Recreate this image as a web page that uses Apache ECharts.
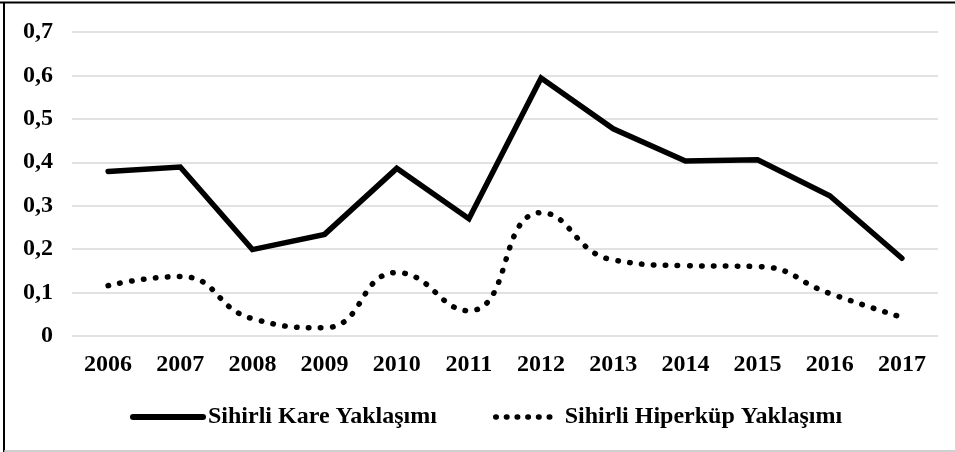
<!DOCTYPE html>
<html>
<head>
<meta charset="utf-8">
<script src="https://cdn.jsdelivr.net/npm/echarts@6/dist/echarts.min.js"></script>
<style>
html,body{margin:0;padding:0;background:#fff;}
#chart{width:955px;height:452px;}
</style>
</head>
<body>
<div id="chart"></div>
<script>
const years = ['2006','2007','2008','2009','2010','2011','2012','2013','2014','2015','2016','2017'];
const kareValues = [0.379, 0.389, 0.199, 0.234, 0.386, 0.270, 0.594, 0.477, 0.403, 0.406, 0.323, 0.179];
const hiperkupValues = [0.116, 0.137, 0.040, 0.019, 0.146, 0.058, 0.284, 0.175, 0.162, 0.160, 0.098, 0.043];
const seriesNames = ['Sihirli Kare Yaklaşımı', 'Sihirli Hiperküp Yaklaşımı'];
const yTicks = [0, 0.1, 0.2, 0.3, 0.4, 0.5, 0.6, 0.7];

const FONT = '"Liberation Serif", "Times New Roman", serif';
const hiddenSymbol = {color: 'rgba(0,0,0,0)', borderWidth: 0, opacity: 0};
const chart = echarts.init(document.getElementById('chart'), null, {renderer: 'canvas'});
chart.setOption({
  backgroundColor: '#fff',
  animation: false,
  grid: {left: 72, right: 17, top: 32, bottom: 116, containLabel: false},
  xAxis: {
    type: 'category',
    data: years,
    boundaryGap: true,
    axisLine: {show: false},
    axisTick: {show: false},
    axisLabel: {margin: 17, fontFamily: FONT, fontWeight: 'bold', fontSize: 24, color: '#000'}
  },
  yAxis: {
    type: 'value',
    min: yTicks[0],
    max: yTicks[yTicks.length - 1],
    interval: 0.1,
    axisLine: {show: false},
    axisTick: {show: false},
    splitLine: {lineStyle: {color: '#d9d9d9', width: 1.5}},
    axisLabel: {
      margin: 19, fontFamily: FONT, fontWeight: 'bold', fontSize: 24, color: '#000',
      formatter: v => (Math.round(v * 10) / 10 === 0 ? '0' : (Math.round(v * 10) / 10).toFixed(1).replace('.', ','))
    }
  },
  legend: [
    {
      data: [seriesNames[0]],
      left: 130, top: 405, padding: 0,
      itemWidth: 70, itemHeight: 14,
      itemStyle: hiddenSymbol,
      lineStyle: {type: 'solid', width: 6, cap: 'round', color: '#000'},
      textStyle: {fontFamily: FONT, fontWeight: 'bold', fontSize: 24, color: '#000'},
      selectedMode: false
    },
    {
      data: [seriesNames[1]],
      left: 493, top: 405, padding: 0,
      itemWidth: 64, itemHeight: 14,
      itemStyle: hiddenSymbol,
      lineStyle: {type: [0.5, 10.2], width: 5.5, cap: 'round', color: '#000'},
      textStyle: {fontFamily: FONT, fontWeight: 'bold', fontSize: 24, color: '#000'},
      selectedMode: false
    }
  ],
  series: [
    {
      name: seriesNames[0],
      type: 'line',
      data: kareValues,
      symbol: 'none',
      lineStyle: {color: '#000', width: 5.5, join: 'miter', cap: 'round'},
      itemStyle: {color: '#000'}
    },
    {
      name: seriesNames[1],
      type: 'line',
      data: hiperkupValues,
      symbol: 'none',
      smooth: 0.5,
      lineStyle: {color: '#000', width: 5.5, type: [0.5, 11.5], cap: 'round'},
      itemStyle: {color: '#000'}
    }
  ],
  graphic: [
    {type: 'line', shape: {x1: 0, y1: 2.5, x2: 955, y2: 2.5}, style: {stroke: '#000', lineWidth: 2}, silent: true},
    {type: 'line', shape: {x1: 4, y1: 2, x2: 4, y2: 452}, style: {stroke: '#000', lineWidth: 2}, silent: true},
    {type: 'line', shape: {x1: 4, y1: 451, x2: 955, y2: 451}, style: {stroke: '#bfbfbf', lineWidth: 1.5}, silent: true}
  ]
});
</script>
</body>
</html>
